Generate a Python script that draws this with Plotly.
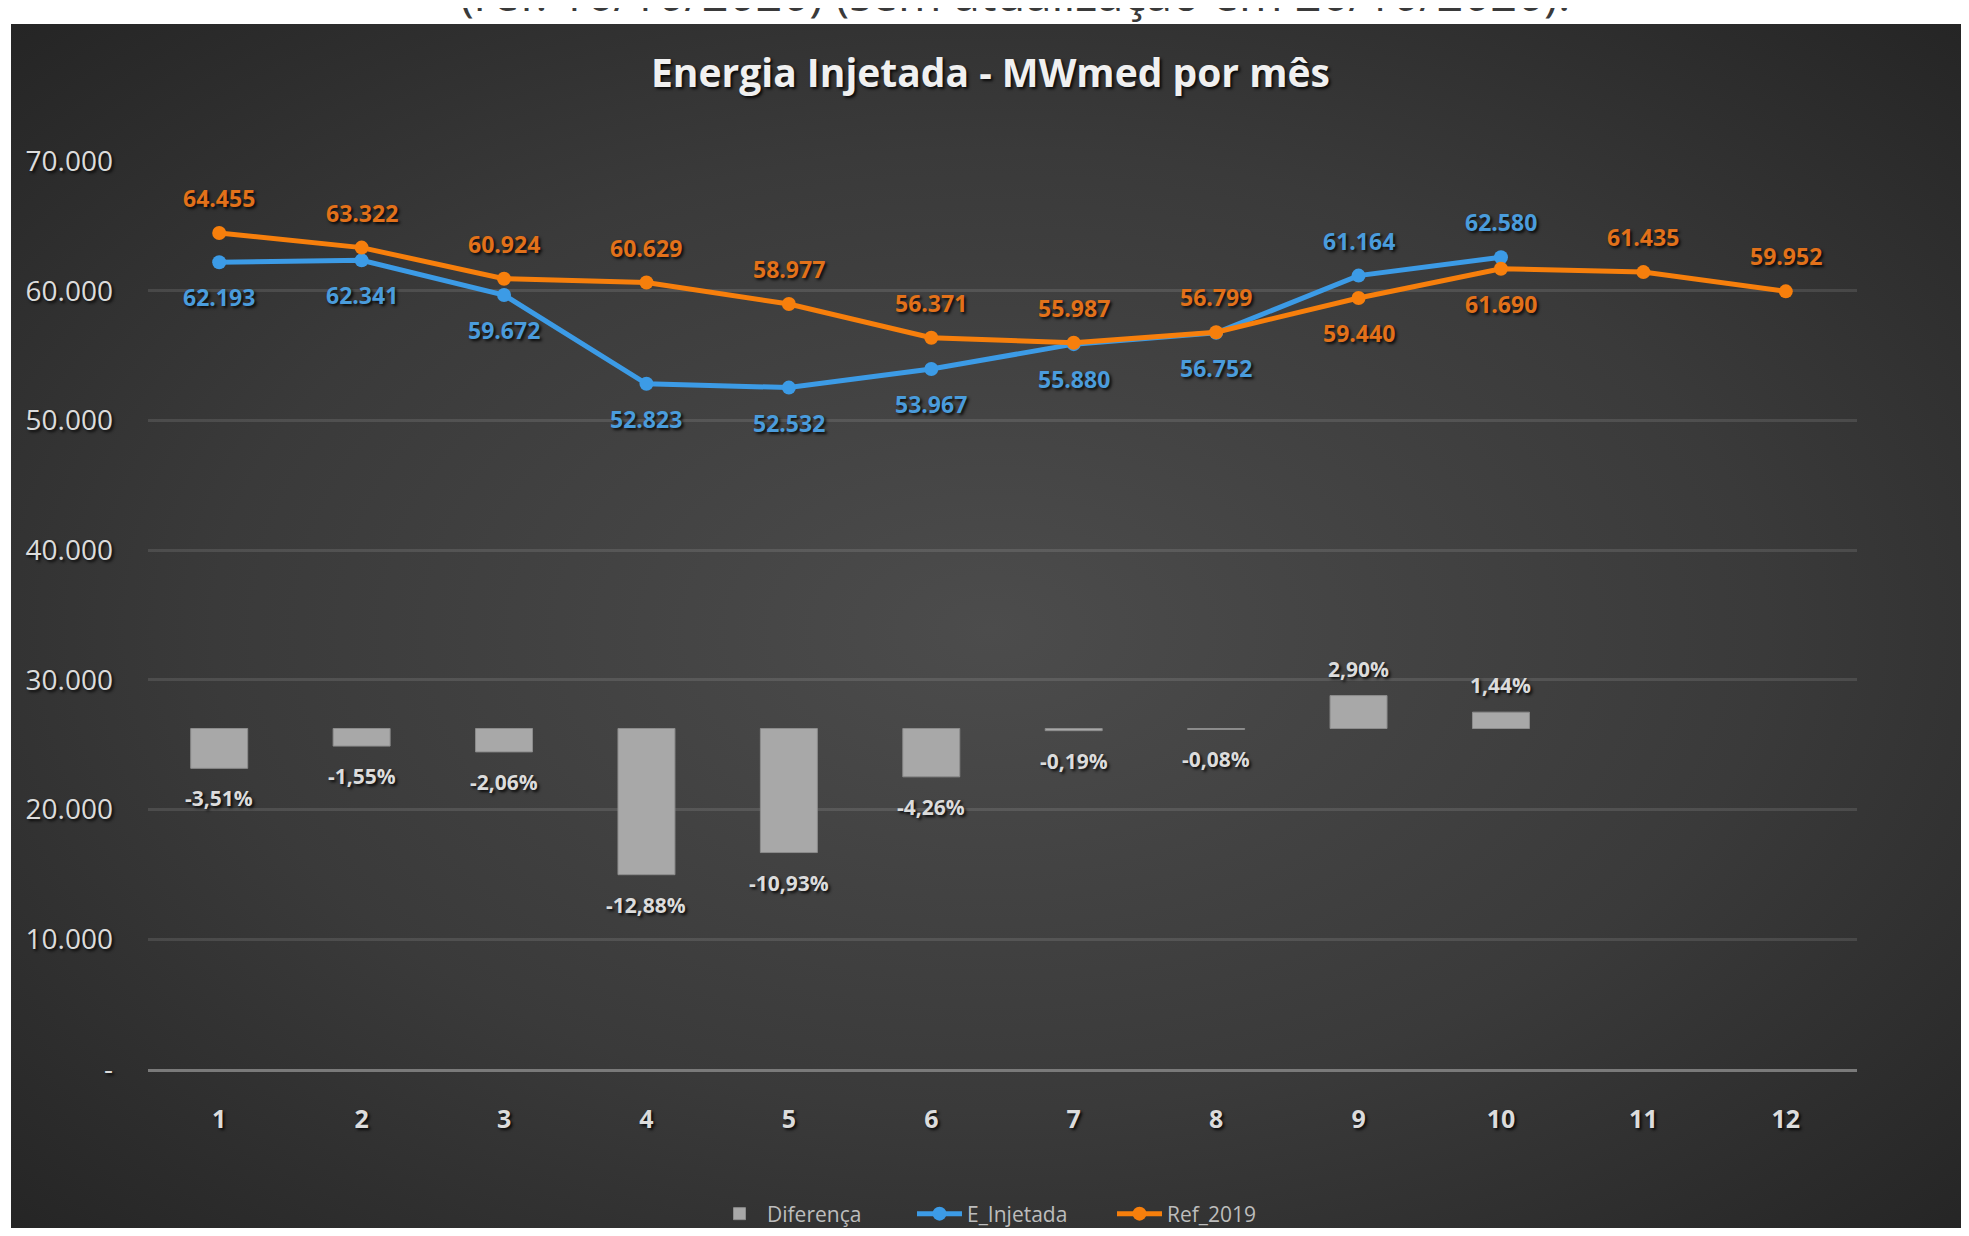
import base64
import plotly.graph_objects as go

# ---------------- data ----------------
months = list(range(1, 13))
ref_2019 = [64455, 63322, 60924, 60629, 58977, 56371, 55987, 56799, 59440, 61690, 61435, 59952]
e_injetada = [62193, 62341, 59672, 52823, 52532, 53967, 55880, 56752, 61164, 62580, None, None]
diferenca = [-3.51, -1.55, -2.06, -12.88, -10.93, -4.26, -0.19, -0.08, 2.90, 1.44, None, None]
y_tickvals = [0, 10000, 20000, 30000, 40000, 50000, 60000, 70000]
y_ticktext = ["-", "10.000", "20.000", "30.000", "40.000", "50.000", "60.000", "70.000"]
title_text = "Energia Injetada - MWmed por mês"
top_text = "(ref. 16/10/2020) (sem atualização em 26/10/2020)."

# ---------------- layout geometry ----------------
PAGE_W, PAGE_H = 1969, 1236
BODY = 8  # default page margin around the figure
W, H = PAGE_W - 2 * BODY, PAGE_H - 2 * BODY
# plot area in page pixels -> figure pixels
PL, PR, PT, PB = 148 - BODY, 1857 - BODY, 161 - BODY, 1069 - BODY
PW, PH = PR - PL, PB - PT


def px2x(p):  # page pixel -> paper x
    return (p - BODY - PL) / PW


def py2y(p):  # page pixel -> paper y
    return (PB - (p - BODY)) / PH


ORANGE = "#F77F0C"
BLUE = "#3C9BE6"
ORANGE_LBL = "#E2711A"
BLUE_LBL = "#4A9CDC"
FONT = "Open Sans"
SHADOW = "2px 2px 3px rgba(0,0,0,0.85)"

fmt_num = lambda v: f"{v:,}".replace(",", ".")
fmt_pct = lambda v: f"{v:.2f}%".replace(".", ",")

# radial gradient background as svg image
svg = (
    "<svg xmlns='http://www.w3.org/2000/svg' width='1958' height='1212' preserveAspectRatio='none'>"
    "<defs><radialGradient id='g' cx='50%' cy='50%' r='72%'>"
    "<stop offset='0' stop-color='#4c4c4c'/>"
    "<stop offset='0.55' stop-color='#3a3a3a'/>"
    "<stop offset='1' stop-color='#242424'/>"
    "</radialGradient></defs>"
    "<rect width='100%' height='100%' fill='url(#g)'/></svg>"
)
uri = "data:image/svg+xml;base64," + base64.b64encode(svg.encode()).decode()

fig = go.Figure()

fig.add_trace(go.Bar(
    x=months, y=diferenca, yaxis="y2", name="Diferença", width=0.4,
    marker=dict(color="#a8a8a8", line=dict(color="#8c8c8c", width=1)),
    hoverinfo="skip",
))
fig.add_trace(go.Scatter(
    x=months, y=e_injetada, name="E_Injetada", mode="lines+markers",
    line=dict(color=BLUE, width=5), marker=dict(color=BLUE, size=14),
))
fig.add_trace(go.Scatter(
    x=months, y=ref_2019, name="Ref_2019", mode="lines+markers",
    line=dict(color=ORANGE, width=5), marker=dict(color=ORANGE, size=14),
))

annotations = []
OFF = 35
for m, r, e in zip(months, ref_2019, e_injetada):
    ref_above = (e is None) or (r >= e)
    annotations.append(dict(
        x=m, y=r, xref="x", yref="y", text=fmt_num(r), showarrow=False,
        yshift=OFF if ref_above else -OFF,
        font=dict(family=FONT, size=23, color=ORANGE_LBL, weight="bold", shadow=SHADOW),
    ))
    if e is not None:
        annotations.append(dict(
            x=m, y=e, xref="x", yref="y", text=fmt_num(e), showarrow=False,
            yshift=-OFF if ref_above else OFF,
            font=dict(family=FONT, size=23, color=BLUE_LBL, weight="bold", shadow=SHADOW),
        ))
for m, d in zip(months, diferenca):
    if d is None:
        continue
    annotations.append(dict(
        x=m, y=d, xref="x", yref="y2", text=fmt_pct(d), showarrow=False,
        yshift=-30 if d < 0 else 27,
        font=dict(family=FONT, size=21, color="#dcdcdc", weight="bold", shadow=SHADOW),
    ))

# title and cut-off heading text
annotations.append(dict(
    x=px2x(990), y=py2y(72), xref="paper", yref="paper", text=title_text,
    showarrow=False, xanchor="center", yanchor="middle",
    font=dict(family=FONT, size=39, color="#f0f0f0", weight="bold", shadow=SHADOW),
))
annotations.append(dict(
    x=px2x(1015), y=py2y(-7), xref="paper", yref="paper", text=top_text,
    showarrow=False, xanchor="center", yanchor="middle",
    font=dict(family=FONT, size=47, color="#3a3a3a"),
))

fig.update_layout(
    width=W, height=H,
    margin=dict(l=PL, r=W - PR, t=PT, b=H - PB, pad=0, autoexpand=False),
    paper_bgcolor="white",
    plot_bgcolor="rgba(0,0,0,0)",
    images=[dict(
        source=uri, xref="paper", yref="paper",
        x=px2x(11), y=py2y(24), sizex=(PAGE_W - 11) / PW, sizey=(PAGE_H - 24) / PH,
        xanchor="left", yanchor="top", sizing="stretch", layer="below",
    )],
    xaxis=dict(
        range=[0.5, 12.5], tickvals=months, ticktext=[str(m) for m in months],
        showgrid=False, zeroline=False, showline=True, linecolor="#7a7a7a", linewidth=3,
        ticks="", ticklabelstandoff=26,
        tickfont=dict(family=FONT, size=25, color="#dcdcdc", weight="bold", shadow=SHADOW),
    ),
    yaxis=dict(
        range=[0, 70000], tickvals=y_tickvals, ticktext=y_ticktext,
        showgrid=True, gridcolor="rgba(255,255,255,0.11)", gridwidth=3,
        zeroline=False, showline=False, ticks="", ticklabelstandoff=34,
        tickfont=dict(family=FONT, size=28, color="#dcdcdc", shadow=SHADOW),
    ),
    yaxis2=dict(range=[-30, 50], overlaying="y", visible=False),
    showlegend=True,
    legend=dict(
        orientation="h", x=(1012 - BODY) / W, y=1 - (1214 - BODY) / H,
        xref="container", yref="container", xanchor="center", yanchor="middle",
        font=dict(family=FONT, size=21, color="#bdbdbd"), bgcolor="rgba(0,0,0,0)",
        itemwidth=45, entrywidth=140, entrywidthmode="pixels",
    ),
    annotations=annotations,
    barmode="overlay",
)

fig.write_html("out.html")
